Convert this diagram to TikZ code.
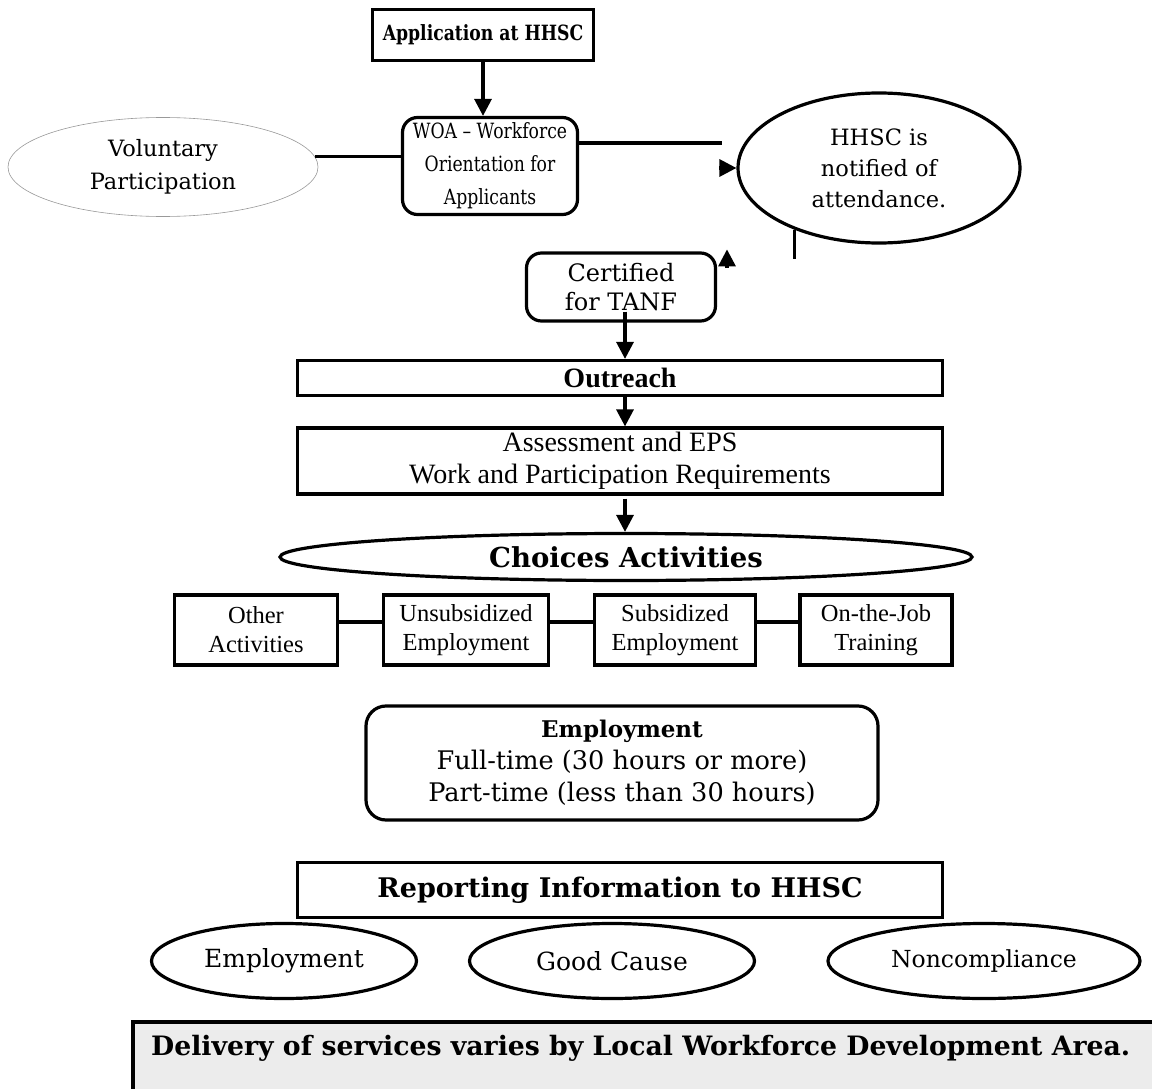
\documentclass[tikz,border=0pt]{standalone}
\usepackage{fontspec}
\setmainfont{DejaVu Serif}
\newfontfamily\narrowbk[FakeStretch=0.82]{DejaVu Serif}
\newfontfamily\tnr{Liberation Serif}
\usetikzlibrary{shapes.geometric,arrows.meta}

\begin{document}
\begin{tikzpicture}[x=1pt,y=-1pt,
    box/.style={draw,line width=3.2pt,inner sep=0pt,align=center},
    rbox/.style={box,rounded corners=15pt},
    oval/.style={ellipse,draw,line width=3.2pt,inner sep=0pt,align=center},
    conn/.style={line width=3.2pt},
    arr/.style={conn,-{Triangle[length=17pt,width=17pt]}}]
    \useasboundingbox (0,0) rectangle (1152,1089);

    % Top part
    \node[box,minimum width=221pt,minimum height=51pt,font=\narrowbk\fontsize{21}{24}\selectfont\bfseries] (app) at (483,35) {Application at HHSC};
    \node[rbox,minimum width=175pt,minimum height=97pt,font=\narrowbk\fontsize{21}{33}\selectfont] (woa) at (490,166) {WOA – Workforce\\Orientation for\\Applicants};
    \node[oval,draw=gray!80,line width=0.6pt,minimum width=310pt,minimum height=99pt,font=\fontsize{22.5}{33}\selectfont] (vol) at (163,167) {Voluntary\\Participation};
    \node[oval,minimum width=282pt,minimum height=150pt,font=\fontsize{22.5}{31}\selectfont] (hhsc) at (879,168) {HHSC is\\notified of\\attendance.};
    \node[rbox,minimum width=189pt,minimum height=68pt,font=\fontsize{24}{29}\selectfont] (cert) at (621,287) {Certified\\for TANF};

    % Connectors near the top (broken, as in the original)
    \coordinate (spine) at (625,0);
    \coordinate (bendA) at (722,143);
    \coordinate (tipA) at (719,168);
    \coordinate (tipB) at (727,268);
    \draw[arr] (app.south) -- (app.south |- woa.north);
    \draw[conn] (vol.4.5) -- (vol.4.5 -| woa.west);
    \draw[conn] (woa.east |- bendA) -- (bendA);
    \draw[arr] (tipA) -- (hhsc.west);
    \draw[conn] (hhsc.216.6) -- ++(0,29);
    \draw[arr] (tipB) -- ([yshift=2pt]tipB |- cert.north);

    % Middle part
    \node[box,minimum width=645pt,minimum height=35pt,font=\tnr\fontsize{28}{30}\selectfont\bfseries] (out) at (620,378) {Outreach};
    \node[box,minimum width=645pt,minimum height=66pt,font=\tnr\fontsize{28}{32}\selectfont] (assess) at (620,461) {Assessment and EPS\\Work and Participation Requirements};
    \node[oval,minimum width=692pt,minimum height=47pt,font=\fontsize{27.5}{30}\selectfont\bfseries] (choices) at (626,557) {Choices Activities};
    \draw[arr] ([yshift=11pt]cert.south -| spine) -- (out.north -| spine);
    \draw[arr] (out.south -| spine) -- (assess.north -| spine);
    \draw[arr] ([yshift=-3pt]assess.south -| spine) -- (choices.north -| spine);

    % Activities
    \node[box,minimum width=163pt,minimum height=70pt,font=\tnr\fontsize{24.5}{29}\selectfont] (other) at (256,630) {Other\\Activities};
    \node[box,minimum width=165pt,minimum height=70pt,font=\tnr\fontsize{24.5}{29}\selectfont] (unsub) at (466,630) {Unsubsidized\\Employment};
    \node[box,minimum width=161pt,minimum height=70pt,font=\tnr\fontsize{24.5}{29}\selectfont] (sub) at (675,630) {Subsidized\\Employment};
    \node[box,minimum width=152pt,minimum height=70pt,font=\tnr\fontsize{24.5}{29}\selectfont] (ojt) at (876,630) {On-the-Job\\Training};
    \draw[conn] ([yshift=8pt]other.east) -- ([yshift=8pt]unsub.west);
    \draw[conn] ([yshift=8pt]unsub.east) -- ([yshift=8pt]sub.west);
    \draw[conn] ([yshift=8pt]sub.east) -- ([yshift=8pt]ojt.west);

    % Employment and reporting
    \node[rbox,rounded corners=20pt,minimum width=512pt,minimum height=114pt,font=\fontsize{25.6}{32}\selectfont] (emp) at (622,763) {{\fontsize{23}{32}\selectfont\bfseries Employment}\\Full-time (30 hours or more)\\Part-time (less than 30 hours)};
    \node[box,minimum width=645pt,minimum height=55pt,font=\fontsize{27}{30}\selectfont\bfseries] (report) at (620,890) {Reporting Information to HHSC};
    \node[oval,minimum width=265pt,minimum height=75pt,font=\fontsize{25}{28}\selectfont] (empl) at (284,961) {Employment};
    \node[oval,minimum width=285pt,minimum height=75pt,font=\fontsize{25}{28}\selectfont] (cause) at (612,961) {Good Cause};
    \node[oval,minimum width=312pt,minimum height=75pt,font=\fontsize{23.5}{28}\selectfont] (noncomp) at (984,961) {Noncompliance};

    % Note at the bottom
    \draw[line width=3.2pt,fill=gray!15] (133,1022) rectangle (1180,1120);
    \node[anchor=west,inner sep=0pt,font=\fontsize{26.7}{28}\selectfont\bfseries] (note) at (151,1048) {Delivery of services varies by Local Workforce Development Area.};
\end{tikzpicture}
\end{document}
